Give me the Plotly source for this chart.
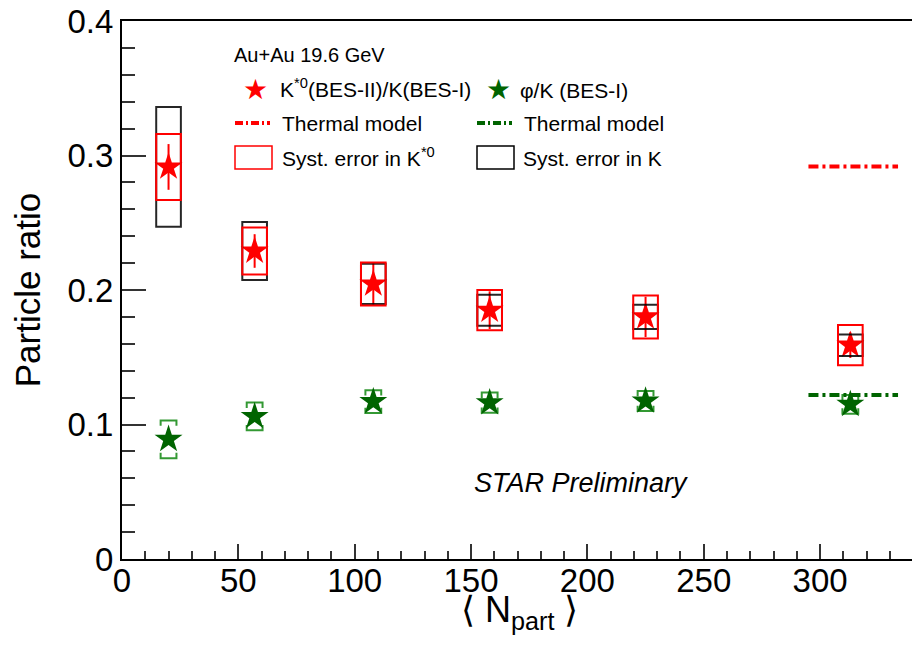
import plotly.graph_objects as go

# ---------------- data ----------------
npart = [20, 57, 108, 158, 225, 313]
kstar_ratio = [0.2915, 0.229, 0.2045, 0.185, 0.180, 0.159]
kstar_stat = [0.017, 0.0125, 0.016, 0.014, 0.015, 0.0095]
kstar_syst_k0 = [0.0245, 0.0175, 0.016, 0.015, 0.016, 0.015]
kstar_syst_k = [0.0445, 0.0215, 0.015, 0.0115, 0.009, 0.008]

phik_ratio = [0.089, 0.106, 0.117, 0.1162, 0.1175, 0.115]
phik_syst = [0.014, 0.0103, 0.0085, 0.0075, 0.0075, 0.007]

thermal_x = [295, 333.5]
thermal_kstar = [0.2918, 0.2918]
thermal_phi_x = [295, 333.5]
thermal_phi = [0.122, 0.122]

x_ticks = [0, 50, 100, 150, 200, 250, 300]
y_ticks = [0, 0.1, 0.2, 0.3, 0.4]

FONT = "Liberation Sans, Arial, Helvetica, sans-serif"
RED = "rgb(255,0,0)"
GREEN = "rgb(0,100,0)"
GREEN_SYS = "rgba(0,128,0,0.8)"
DASH = "10px,4px,3px,4px"

BOX_HW = 5.3
BR_HW = 3.4
BR_TICK = 0.004

fig = go.Figure()

shapes = []
# systematic boxes
for x, y, sk0, sk in zip(npart, kstar_ratio, kstar_syst_k0, kstar_syst_k):
    shapes.append(dict(type="rect", xref="x", yref="y", x0=x - BOX_HW, x1=x + BOX_HW,
                       y0=y - sk, y1=y + sk, line=dict(color="rgba(0,0,0,0.85)", width=2)))
    shapes.append(dict(type="rect", xref="x", yref="y", x0=x - BOX_HW, x1=x + BOX_HW,
                       y0=y - sk0, y1=y + sk0, line=dict(color=RED, width=2)))

# phi/K bracket caps
bx, by = [], []
for x, y, s in zip(npart, phik_ratio, phik_syst):
    top = y + s
    bot = y - s
    bx += [x - BR_HW, x - BR_HW, x + BR_HW, x + BR_HW, None]
    by += [top - BR_TICK, top, top, top - BR_TICK, None]
    bx += [x - BR_HW, x - BR_HW, x + BR_HW, x + BR_HW, None]
    by += [bot + BR_TICK, bot, bot, bot + BR_TICK, None]
fig.add_trace(go.Scatter(x=bx, y=by, mode="lines", line=dict(color=GREEN_SYS, width=2),
                         showlegend=False, hoverinfo="skip"))

# thermal model lines
fig.add_trace(go.Scatter(x=thermal_x, y=thermal_kstar, mode="lines",
                         line=dict(color=RED, width=4, dash=DASH), showlegend=False))
fig.add_trace(go.Scatter(x=thermal_phi_x, y=thermal_phi, mode="lines",
                         line=dict(color=GREEN, width=4, dash=DASH), showlegend=False))

# points
fig.add_trace(go.Scatter(x=npart, y=kstar_ratio, mode="markers",
                         marker=dict(symbol="star", size=21, color=RED, line=dict(width=0)),
                         error_y=dict(type="data", array=kstar_stat, color=RED, thickness=2, width=0),
                         showlegend=False))
fig.add_trace(go.Scatter(x=npart, y=phik_ratio, mode="markers",
                         marker=dict(symbol="star", size=21, color=GREEN, line=dict(width=0)),
                         showlegend=False))

# ------------- manual legend (pixel -> paper helpers) -------------
L, R, T, B = 122, 912, 21, 558.6
def px(x):
    return (x - L) / (R - L)
def py(y):
    return (B - y) / (B - T)

LF = dict(family=FONT, size=21, color="black")
ann = []
ann.append(dict(x=px(232), y=py(55), xref="paper", yref="paper", xanchor="left", yanchor="middle",
                text="Au+Au 19.6 GeV", showarrow=False, font=dict(family=FONT, size=20, color="black")))
ann.append(dict(x=px(255), y=py(89), xref="paper", yref="paper", xanchor="center", yanchor="middle",
                text="★", showarrow=False, font=dict(family="DejaVu Sans", size=28, color=RED)))
ann.append(dict(x=px(498), y=py(89), xref="paper", yref="paper", xanchor="center", yanchor="middle",
                text="★", showarrow=False, font=dict(family="DejaVu Sans", size=28, color=GREEN)))
ann.append(dict(x=px(278), y=py(88), xref="paper", yref="paper", xanchor="left", yanchor="middle",
                text="K<sup>*0</sup>(BES-II)/K(BES-I)", showarrow=False, font=LF))
ann.append(dict(x=px(518), y=py(90), xref="paper", yref="paper", xanchor="left", yanchor="middle",
                text="φ/K (BES-I)", showarrow=False, font=LF))
ann.append(dict(x=px(280), y=py(123), xref="paper", yref="paper", xanchor="left", yanchor="middle",
                text="Thermal model", showarrow=False, font=LF))
ann.append(dict(x=px(522), y=py(123), xref="paper", yref="paper", xanchor="left", yanchor="middle",
                text="Thermal model", showarrow=False, font=LF))
ann.append(dict(x=px(280), y=py(157), xref="paper", yref="paper", xanchor="left", yanchor="middle",
                text="Syst. error in K<sup>*0</sup>", showarrow=False, font=LF))
ann.append(dict(x=px(521), y=py(158), xref="paper", yref="paper", xanchor="left", yanchor="middle",
                text="Syst. error in K", showarrow=False, font=LF))
ann.append(dict(x=px(581), y=py(483), xref="paper", yref="paper", xanchor="center", yanchor="middle",
                text="<i>STAR Preliminary</i>", showarrow=False, font=dict(family=FONT, size=27, color="black")))
# x-axis title
ann.append(dict(x=px(519), y=py(612), xref="paper", yref="paper", xanchor="center", yanchor="middle",
                text="⟨ N<sub>part</sub> ⟩", showarrow=False, font=dict(family=FONT, size=36, color="black")))

shapes.append(dict(type="line", xref="paper", yref="paper", x0=px(235), x1=px(270), y0=py(123), y1=py(123),
                   line=dict(color=RED, width=4, dash="8px,3px,2px,3px")))
shapes.append(dict(type="line", xref="paper", yref="paper", x0=px(477), x1=px(512), y0=py(123), y1=py(123),
                   line=dict(color=GREEN, width=4, dash="8px,3px,2px,3px")))
shapes.append(dict(type="rect", xref="paper", yref="paper", x0=px(235), x1=px(272), y0=py(146), y1=py(169),
                   line=dict(color=RED, width=1.5)))
shapes.append(dict(type="rect", xref="paper", yref="paper", x0=px(477), x1=px(514), y0=py(146), y1=py(169),
                   line=dict(color="black", width=1.5)))

fig.update_layout(
    width=912, height=648,
    margin=dict(l=122, r=0, t=21, b=89.4),
    paper_bgcolor="white", plot_bgcolor="white",
    font=dict(family=FONT, color="black"),
    shapes=shapes, annotations=ann,
    showlegend=False,
)
fig.update_xaxes(
    range=[0, 339.5], tickvals=x_ticks, ticktext=[str(v) for v in x_ticks],
    ticks="inside", ticklen=15, tickwidth=1.5, tickcolor="#333",
    minor=dict(dtick=10, ticks="inside", ticklen=8, tickwidth=1.5, tickcolor="#333"),
    showline=True, linecolor="black", linewidth=2, mirror=True,
    showgrid=False, zeroline=False,
    tickfont=dict(family=FONT, size=33), ticklabelstandoff=-9,
)
fig.update_yaxes(
    range=[0, 0.4], tickvals=y_ticks, ticktext=["0", "0.1", "0.2", "0.3", "0.4"],
    ticks="inside", ticklen=24, tickwidth=1.5, tickcolor="#333",
    minor=dict(dtick=0.02, ticks="inside", ticklen=13, tickwidth=1.5, tickcolor="#333"),
    showline=True, linecolor="black", linewidth=2, mirror=False,
    showgrid=False, zeroline=False,
    tickfont=dict(family=FONT, size=33),
    title=dict(text="Particle ratio", font=dict(family=FONT, size=35), standoff=16),
)

fig.write_html("out.html")
